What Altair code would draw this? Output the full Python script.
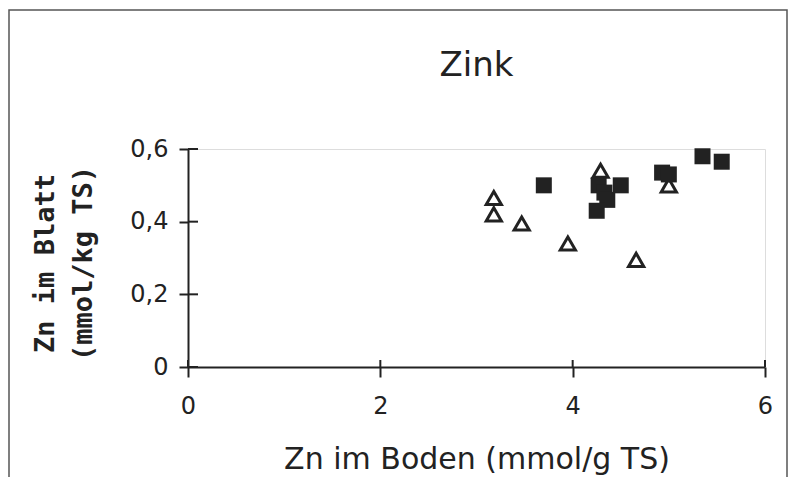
import altair as alt
import pandas as pd

# --- data ---
x_ticks = [0, 2, 4, 6]
y_ticks = [0, 0.2, 0.4, 0.6]

sq_x = [3.70, 4.27, 4.33, 4.36, 4.25, 4.50, 4.93, 5.00, 5.35, 5.55]
sq_y = [0.50, 0.50, 0.48, 0.46, 0.43, 0.50, 0.535, 0.53, 0.58, 0.565]

tri_x = [3.18, 3.18, 3.47, 3.95, 4.66, 4.29, 5.00]
tri_y = [0.465, 0.42, 0.395, 0.34, 0.295, 0.54, 0.50]

title_text = ["Zink"]

W, H = 577, 218
INK = "#222222"
SANS = "DejaVu Sans"
MONO = "DejaVu Sans Mono"

sq = pd.DataFrame({"x": sq_x, "y": sq_y})
tri = pd.DataFrame({"x": tri_x, "y": tri_y})
xt = pd.DataFrame({"t": x_ticks})
yt = pd.DataFrame({"t": y_ticks})
one = pd.DataFrame({"a": [0]})
ttl = pd.DataFrame({"label": title_text})

xs = alt.Scale(domain=[0, 6], nice=False, zero=False)
ys = alt.Scale(domain=[0, 0.6], nice=False)

xaxis = alt.Axis(
    values=x_ticks, format="d", title="Zn im Boden (mmol/g TS)", grid=False,
    labelFlush=False,
    domainColor=INK, domainWidth=2, tickColor=INK, tickWidth=2, tickSize=10,
    labelFont=SANS, labelFontSize=24, labelColor=INK, labelPadding=17,
    titleFont=SANS, titleFontSize=30, titleFontWeight="normal", titleColor=INK,
    titlePadding=26,
)
yaxis = alt.Axis(
    values=y_ticks, title=["Zn im Blatt", "(mmol/kg TS)"], grid=False,
    labelFlush=False,
    labelExpr="datum.value == 0 ? '0' : replace(format(datum.value, '.1f'), '.', ',')",
    domainColor=INK, domainWidth=2, tickColor=INK, tickWidth=2, tickSize=9,
    labelFont=SANS, labelFontSize=24, labelColor=INK, labelPadding=11,
    titleFont=MONO, titleFontSize=27, titleFontWeight="bold", titleColor=INK,
    titlePadding=32, titleLineHeight=38, titleY=114,
)

border = alt.Chart(one).mark_rect(fill=None, stroke="#555555", strokeWidth=1.5).encode(
    x=alt.value(-179), x2=alt.value(W + 22),
    y=alt.value(-139), y2=alt.value(H + 200),
)

title_layer = alt.Chart(ttl).mark_text(
    font=SANS, fontSize=34, color=INK, align="center", baseline="alphabetic",
).encode(
    text="label:N", x=alt.value(W / 2), y=alt.value(-73),
)

tri_layer = alt.Chart(tri).mark_point(
    shape="triangle-up", filled=False, fill="white", fillOpacity=1,
    stroke=INK, strokeWidth=3, size=230, opacity=1,
).encode(
    x=alt.X("x:Q", scale=xs, axis=xaxis),
    y=alt.Y("y:Q", scale=ys, axis=yaxis),
)

sq_layer = alt.Chart(sq).mark_point(
    shape="square", filled=True, color=INK, size=256, opacity=1,
).encode(
    x=alt.X("x:Q", scale=xs),
    y=alt.Y("y:Q", scale=ys),
)

x_in = alt.Chart(xt).mark_rule(color=INK, strokeWidth=2).encode(
    x=alt.X("t:Q", scale=xs), y=alt.value(H), y2=alt.value(H - 7),
)
y_in = alt.Chart(yt).mark_rule(color=INK, strokeWidth=2).encode(
    y=alt.Y("t:Q", scale=ys), x=alt.value(0), x2=alt.value(10),
)

chart = alt.layer(border, title_layer, x_in, y_in, tri_layer, sq_layer).properties(
    width=W, height=H,
    padding={"left": 180, "top": 141, "right": 24, "bottom": 110},
    autosize=alt.AutoSizeParams(type="none"),
).configure_view(stroke=None).configure(background="white")

chart.save("out.html", embed_options={"renderer": "svg", "actions": False})
